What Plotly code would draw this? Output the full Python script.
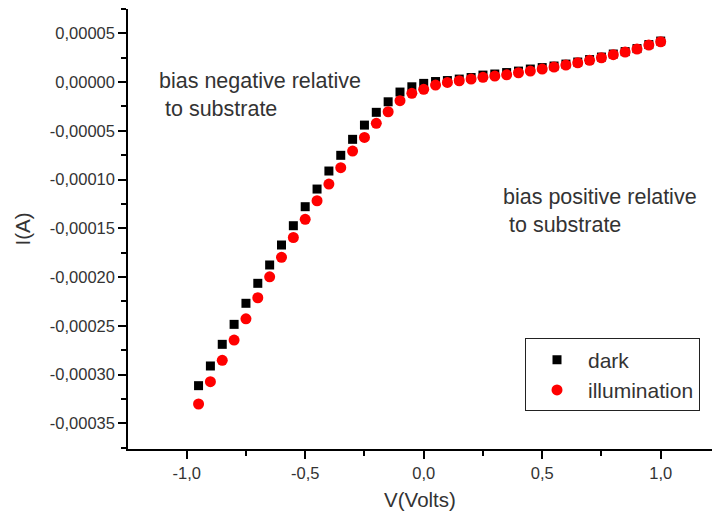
import plotly.graph_objects as go

# Voltage sweep (V)
voltage = [round(-0.95 + 0.05 * i, 2) for i in range(40)]

# Current in the dark (A)
dark = [
    -311.4e-6, -291.2e-6, -269.0e-6, -248.5e-6, -226.9e-6, -206.4e-6, -187.6e-6, -167.1e-6,
    -147.3e-6, -127.8e-6, -109.7e-6, -91.2e-6, -75.1e-6, -58.7e-6, -44.1e-6, -31.0e-6,
    -20.2e-6, -10.2e-6, -4.8e-6, -1.3e-6, 0.6e-6, 1.6e-6, 3.1e-6, 4.7e-6,
    7.2e-6, 8.3e-6, 9.8e-6, 11.3e-6, 13.4e-6, 14.9e-6, 16.5e-6, 18.5e-6,
    20.6e-6, 23.1e-6, 25.7e-6, 28.8e-6, 31.3e-6, 34.4e-6, 38.5e-6, 42.1e-6,
]

# Current under illumination (A)
illumination = [
    -330.2e-6, -307.3e-6, -285.4e-6, -264.6e-6, -242.8e-6, -221.2e-6, -199.7e-6, -179.7e-6,
    -159.4e-6, -140.8e-6, -121.7e-6, -104.6e-6, -87.8e-6, -70.7e-6, -56.7e-6, -42.3e-6,
    -30.4e-6, -19.1e-6, -11.5e-6, -7.4e-6, -3.0e-6, -0.3e-6, 1.4e-6, 3.1e-6,
    4.9e-6, 6.2e-6, 7.5e-6, 9.6e-6, 11.3e-6, 13.4e-6, 15.4e-6, 17.5e-6,
    19.8e-6, 22.3e-6, 25.0e-6, 28.1e-6, 30.8e-6, 33.9e-6, 38.0e-6, 41.4e-6,
]

x_tickvals = [-1.0, -0.5, 0.0, 0.5, 1.0]
x_ticktext = ["-1,0", "-0,5", "0,0", "0,5", "1,0"]
y_tickvals = [5e-5, 0.0, -5e-5, -10e-5, -15e-5, -20e-5, -25e-5, -30e-5, -35e-5]
y_ticktext = ["0,00005", "0,00000", "-0,00005", "-0,00010", "-0,00015",
              "-0,00020", "-0,00025", "-0,00030", "-0,00035"]

FONT = "Liberation Sans, Arial, sans-serif"
TXT = "#333333"

fig = go.Figure()
fig.add_trace(go.Scatter(
    x=voltage, y=dark, mode="markers", name="dark",
    marker=dict(symbol="square", size=9, color="black", line=dict(width=0)),
))
fig.add_trace(go.Scatter(
    x=voltage, y=illumination, mode="markers", name="illumination",
    marker=dict(symbol="circle", size=11, color="#ff0000", line=dict(width=0)),
))

fig.add_annotation(
    x=-1.125, y=-1.33e-5, xref="x", yref="y",
    text="bias negative relative<br>\u00a0to substrate", showarrow=False,
    xanchor="left", yanchor="middle", align="left",
    font=dict(family=FONT, size=21.5, color=TXT),
)
fig.add_annotation(
    x=0.325, y=-1.3225e-4, xref="x", yref="y",
    text="bias positive relative<br>\u00a0to substrate", showarrow=False,
    xanchor="left", yanchor="middle", align="left",
    font=dict(family=FONT, size=21.5, color=TXT),
)

fig.update_layout(
    width=712, height=518,
    margin=dict(l=128, r=0, t=9, b=69),
    paper_bgcolor="white", plot_bgcolor="white",
    font=dict(family=FONT, color=TXT),
    showlegend=True,
    legend=dict(
        x=0.6798, y=0.1682, xanchor="left", yanchor="middle",
        bordercolor="#222222", borderwidth=1, bgcolor="white",
        itemwidth=52,
        font=dict(family=FONT, size=21, color=TXT),
    ),
    xaxis=dict(
        range=[-1.2477, 1.2165], automargin=False,
        showgrid=False, zeroline=False,
        showline=True, linecolor="black", linewidth=1.5,
        ticks="outside", ticklen=8, tickwidth=1.5, tickcolor="black",
        tickvals=x_tickvals, ticktext=x_ticktext,
        tickfont=dict(family=FONT, size=16.5, color=TXT),
        minor=dict(dtick=0.25, tick0=0, ticks="outside", ticklen=5, tickwidth=1.5, tickcolor="black", showgrid=False),
        title=dict(text="V(Volts)", font=dict(family=FONT, size=20.5, color=TXT), standoff=12),
    ),
    yaxis=dict(
        range=[-3.7636e-4, 7.5e-5], automargin=False,
        showgrid=False, zeroline=False,
        showline=True, linecolor="black", linewidth=1.5,
        ticks="outside", ticklen=8, tickwidth=1.5, tickcolor="black",
        tickvals=y_tickvals, ticktext=y_ticktext,
        tickfont=dict(family=FONT, size=16.5, color=TXT),
        minor=dict(dtick=2.5e-5, tick0=0, ticks="outside", ticklen=5, tickwidth=1.5, tickcolor="black", showgrid=False),
        title=dict(text="I(A)", font=dict(family=FONT, size=20.5, color=TXT), standoff=14),
    ),
)

fig.write_html("out.html")
